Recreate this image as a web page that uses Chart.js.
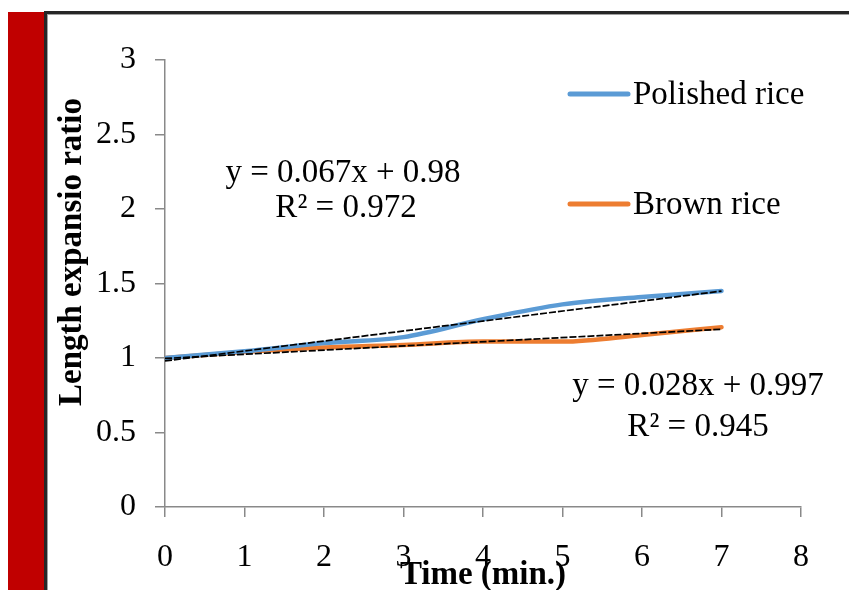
<!DOCTYPE html>
<html>
<head>
<meta charset="utf-8">
<script src="https://cdn.jsdelivr.net/npm/chart.js@4.4.1/dist/chart.umd.min.js"></script>
<style>
  html, body { margin: 0; padding: 0; background: #fff; }
  body { width: 849px; height: 590px; position: relative; overflow: hidden; }
  #redBar { position: absolute; left: 8px; top: 12px; width: 36px; height: 578px; background: #c00000; }
  #frame { position: absolute; left: 44px; top: 11px; width: 840px; height: 620px;
           border-top: 3px solid #262626; border-left: 3px solid #262626;
           box-shadow: inset 1px 1px 0 #a0a0a0; }
  #chart { position: absolute; left: 0; top: 0; }
</style>
</head>
<body>
<div id="redBar"></div>
<div id="frame"></div>
<canvas id="chart" width="849" height="590"></canvas>
<script>
// values
const timeMin = [0, 1, 2, 3, 4, 5, 6, 7];
const polishedRice = [1.00, 1.045, 1.10, 1.14, 1.26, 1.36, 1.41, 1.45];
const brownRice = [1.00, 1.04, 1.07, 1.087, 1.11, 1.11, 1.155, 1.207];

// linear trendlines (ends at x = 0 and x = 7)
const trendX = [0, 7];
const trendPolished = [0.98, 1.449];
const trendBrown = [0.997, 1.193];

const xTickLabels = ["0", "1", "2", "3", "4", "5", "6", "7", "8"];
const yTickLabels = ["0", "0.5", "1", "1.5", "2", "2.5", "3"];

const eqPolished = ["y = 0.067x + 0.98", "R\u00B2 = 0.972"];
const eqBrown = ["y = 0.028x + 0.997", "R\u00B2 = 0.945"];

const serif = '"Liberation Serif", "Times New Roman", serif';
const axisGray = "#898989";

const toPoints = (xs, ys) => xs.map((x, i) => ({ x: x, y: ys[i] }));

// legend, equations and the vertical axis title
const overlay = {
  id: "overlay",
  afterDraw(chart) {
    const c = chart.ctx;

    c.save();
    c.fillStyle = "#000";
    c.font = "bold 33px " + serif;
    c.translate(72, 252);
    c.rotate(-Math.PI / 2);
    c.textAlign = "center";
    c.textBaseline = "middle";
    c.fillText("Length expansio ratio", 0, 0);
    c.restore();

    c.save();
    c.fillStyle = "#000";
    c.font = "33px " + serif;
    c.textAlign = "center";
    c.textBaseline = "alphabetic";
    c.fillText(eqPolished[0], 343, 182);
    c.fillText(eqPolished[1], 346, 217);
    c.fillText(eqBrown[0], 698, 395);
    c.fillText(eqBrown[1], 698, 436);

    // legend
    const rows = [{ ds: chart.data.datasets[0], y: 94 }, { ds: chart.data.datasets[1], y: 204 }];
    c.textAlign = "left";
    rows.forEach(r => {
      c.strokeStyle = r.ds.borderColor;
      c.lineWidth = 5;
      c.lineCap = "round";
      c.beginPath();
      c.moveTo(570, r.y);
      c.lineTo(628, r.y);
      c.stroke();
      c.fillText(r.ds.label, 633, r.y + 10);
    });
    c.restore();
  }
};

const ctx = document.getElementById("chart").getContext("2d");

new Chart(ctx, {
  type: "line",
  data: {
    datasets: [
      {
        label: "Polished rice",
        data: toPoints(timeMin, polishedRice),
        borderColor: "#5b9bd5",
        borderWidth: 4.5,
        borderCapStyle: "round",
        pointRadius: 0,
        cubicInterpolationMode: "monotone",
        order: 2
      },
      {
        label: "Brown rice",
        data: toPoints(timeMin, brownRice),
        borderColor: "#ed7d31",
        borderWidth: 4.5,
        borderCapStyle: "round",
        pointRadius: 0,
        cubicInterpolationMode: "monotone",
        order: 2
      },
      {
        label: "Linear (Polished rice)",
        data: toPoints(trendX, trendPolished),
        borderColor: "#000",
        borderWidth: 1.7,
        borderDash: [7, 2],
        pointRadius: 0,
        order: 0
      },
      {
        label: "Linear (Brown rice)",
        data: toPoints(trendX, trendBrown),
        borderColor: "#000",
        borderWidth: 1.7,
        borderDash: [7, 2],
        pointRadius: 0,
        order: 0
      }
    ]
  },
  options: {
    responsive: false,
    animation: false,
    layout: { padding: { left: 0, top: 60, right: 48, bottom: 0 } },
    plugins: {
      legend: { display: false },
      tooltip: { enabled: false }
    },
    scales: {
      x: {
        type: "linear",
        min: 0,
        max: 8,
        ticks: {
          stepSize: 1,
          autoSkip: false,
          maxRotation: 0,
          padding: 21,
          color: "#000",
          font: { size: 32, family: serif },
          callback: (v, i) => xTickLabels[i]
        },
        grid: { drawOnChartArea: false, tickLength: 10, color: axisGray, lineWidth: 1.5 },
        border: { color: axisGray, width: 1.5 },
        title: {
          display: true,
          text: "Time (min.)",
          color: "#000",
          font: { size: 33, weight: "bold", family: serif },
          padding: { top: 0, bottom: -5 }
        },
        afterFit: s => { s.height = 83; }
      },
      y: {
        min: 0,
        max: 3,
        ticks: {
          stepSize: 0.5,
          padding: 19,
          color: "#000",
          font: { size: 32, family: serif },
          callback: (v, i) => yTickLabels[i]
        },
        grid: { drawOnChartArea: false, tickLength: 10, color: axisGray, lineWidth: 1.5 },
        border: { color: axisGray, width: 1.5 },
        afterFit: s => { s.width = 165; }
      }
    }
  },
  plugins: [overlay]
});
</script>
</body>
</html>
